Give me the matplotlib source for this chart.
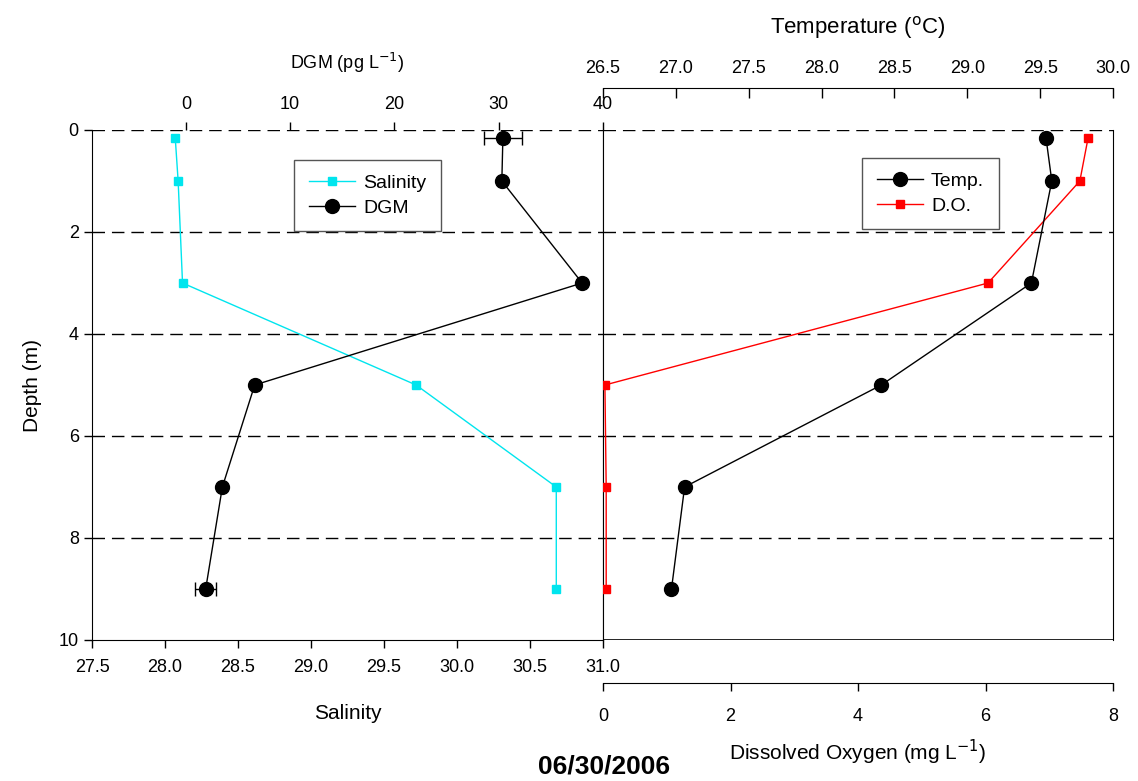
import numpy as np
import matplotlib.pyplot as plt
from matplotlib.lines import Line2D

plt.rcParams['font.family'] = ['Liberation Sans', 'DejaVu Sans']

# depth profile, 06/30/2006
depth = [0.15, 1, 3, 5, 7, 9]
salinity = [28.07, 28.09, 28.12, 29.72, 30.68, 30.68]
dgm = [30.4, 30.3, 38.0, 6.6, 3.5, 1.9]
dgm_err = [1.8, 0, 0, 0, 0, 1.0]
temp = [29.54, 29.58, 29.44, 28.41, 27.06, 26.97]
do = [7.61, 7.48, 6.04, 0.03, 0.05, 0.05]

depth_ticks = [0, 2, 4, 6, 8, 10]
grid_depths = [0, 2, 4, 6, 8]
sal_ticks = [27.5, 28.0, 28.5, 29.0, 29.5, 30.0, 30.5, 31.0]
dgm_ticks = [0, 10, 20, 30, 40]
temp_ticks = [26.5, 27.0, 27.5, 28.0, 28.5, 29.0, 29.5, 30.0]
do_ticks = [0, 2, 4, 6, 8]

W, H = 1138, 781
fig = plt.figure(figsize=(W/100, H/100), dpi=100)

def rect(x0, x1, y0, y1):
	return [x0/W, 1-y1/H, (x1-x0)/W, (y1-y0)/H]

ax1 = fig.add_axes(rect(92, 603, 130, 640))
ax2 = fig.add_axes(rect(603, 1113, 130, 640))
fs = 13
dash = (0, (9, 5))
leg_kw = dict(bbox_transform=fig.transFigure, loc='upper left', fontsize=14, frameon=True,
	fancybox=False, edgecolor='#555555', framealpha=1, borderaxespad=0,
	handlelength=2.4, handletextpad=0.4, borderpad=0.75, labelspacing=0.35)

# ---- left panel: salinity (bottom) + DGM (top)
ax1.set_ylim(10, 0)
ax1.set_xlim(27.5, 31.0)
ax1.set_xticks(sal_ticks)
ax1.set_xticklabels(['%.1f' % t for t in sal_ticks])
ax1.set_yticks(depth_ticks)
ax1.tick_params(axis='both', direction='out', length=6, labelsize=fs, width=1)
ax1.tick_params(axis='x', pad=8)
ax1.spines['top'].set_visible(False)
for d in grid_depths:
	ax1.axhline(d, color='k', lw=1, ls=dash, zorder=1)
ax1.plot(salinity, depth, color='#00e5ee', lw=1, marker='s', ms=6, zorder=3)
ax1.set_xlabel('Salinity', fontsize=15, labelpad=20)
ax1.set_ylabel('Depth (m)', fontsize=15, labelpad=12)

ax1t = ax1.twiny()
ax1t.set_xlim(-9, 40)
ax1t.set_xticks(dgm_ticks)
ax1t.tick_params(axis='x', direction='out', length=6, labelsize=fs, width=1, pad=6)
for s in ['top', 'left', 'bottom', 'right']:
	ax1t.spines[s].set_visible(False)
ax1t.errorbar(dgm, depth, xerr=dgm_err, color='k', lw=1, marker='o', ms=10,
	capsize=5, elinewidth=1, capthick=1, zorder=4)
ax1t.set_xlabel('DGM (pg L$^{-1}$)', fontsize=13, labelpad=20)
h_sal = Line2D([], [], color='#00e5ee', lw=1, marker='s', ms=6)
h_dgm = Line2D([], [], color='k', lw=1, marker='o', ms=10)
leg = ax1t.legend([h_sal, h_dgm], ['Salinity', 'DGM'], bbox_to_anchor=(294/W, 1-160/H), **leg_kw)
leg.get_frame().set_linewidth(1)

# ---- right panel: DO (bottom, offset) + temperature (top, offset)
ax2.set_ylim(10, 0)
ax2.set_xlim(0, 8)
ax2.set_xticks(do_ticks)
ax2.set_yticks([])
ax2.spines['bottom'].set_position(('outward', 31))
ax2.spines['top'].set_visible(False)
ax2.tick_params(axis='x', direction='out', length=6, labelsize=fs, width=1, pad=12)
ax2.axhline(10, color='k', lw=1.2, zorder=2)
for d in grid_depths:
	ax2.axhline(d, color='k', lw=1, ls=dash, zorder=1)
ax2.plot(do, depth, color='red', lw=1, marker='s', ms=6, zorder=3)
ax2.set_xlabel('Dissolved Oxygen (mg L$^{-1}$)', fontsize=15, labelpad=9)

ax2t = ax2.twiny()
ax2t.set_xlim(26.5, 30.0)
ax2t.set_xticks(temp_ticks)
ax2t.set_xticklabels(['%.1f' % t for t in temp_ticks])
ax2t.spines['top'].set_position(('outward', 30))
for s in ['left', 'bottom', 'right']:
	ax2t.spines[s].set_visible(False)
ax2t.tick_params(axis='x', direction='in', length=7, labelsize=fs, width=1, pad=8)
ax2t.plot(temp, depth, color='k', lw=1, marker='o', ms=10, zorder=4)
ax2t.set_xlabel('Temperature ($^{\\rm o}$C)', fontsize=16, labelpad=19)
h_t = Line2D([], [], color='k', lw=1, marker='o', ms=10)
h_do = Line2D([], [], color='red', lw=1, marker='s', ms=6)
leg2 = ax2t.legend([h_t, h_do], ['Temp.', 'D.O.'], bbox_to_anchor=(862/W, 1-158/H), **leg_kw)
leg2.get_frame().set_linewidth(1)

fig.text(604/W, 1-766/H, '06/30/2006', fontsize=19, fontweight='bold', ha='center', va='center')

fig.savefig('out.png', dpi=100)
